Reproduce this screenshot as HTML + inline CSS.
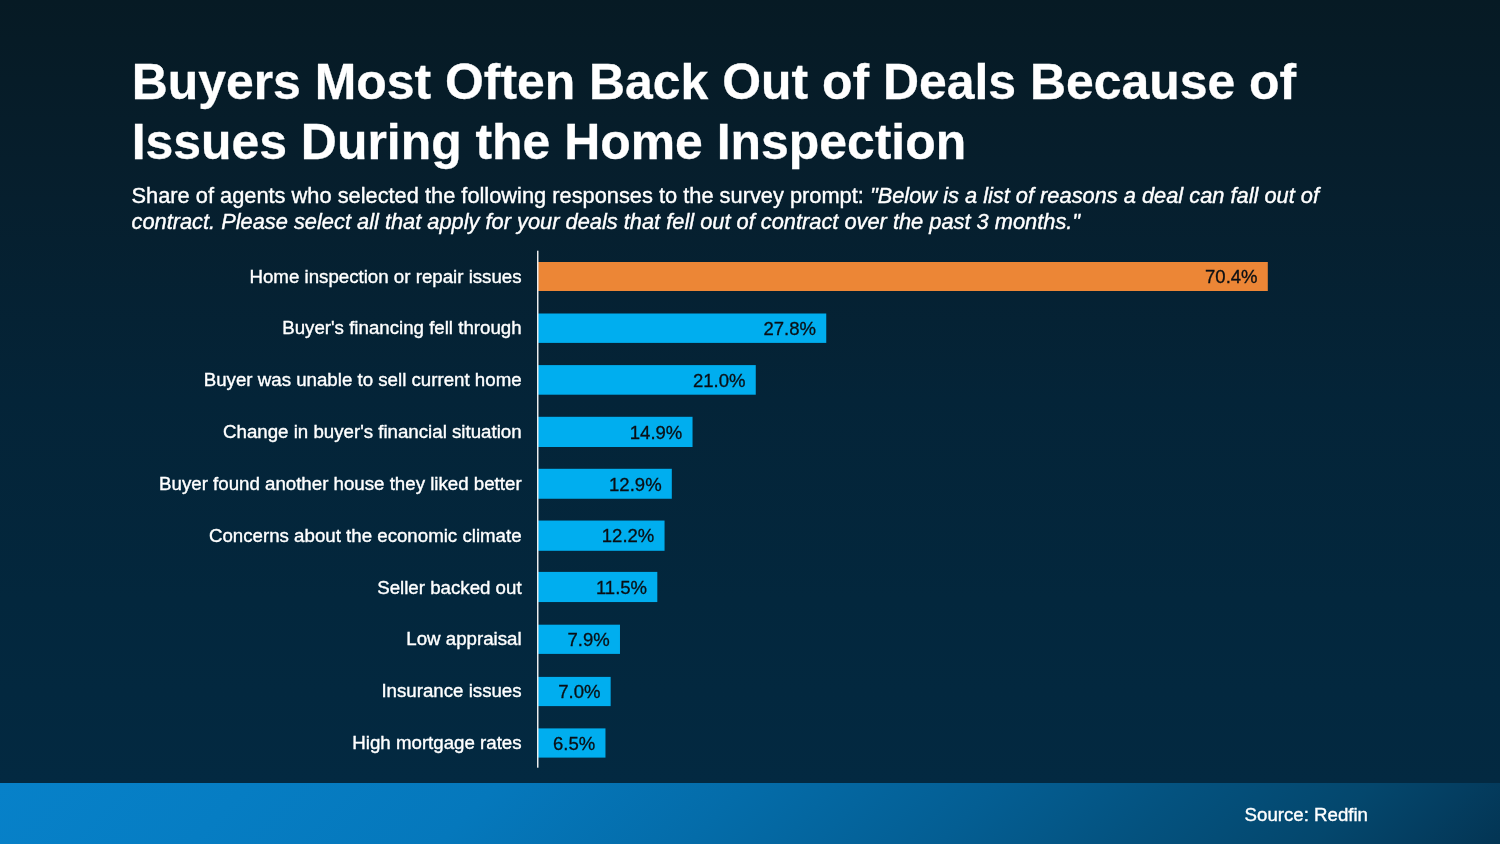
<!DOCTYPE html>
<html lang="en">
<head>
<meta charset="utf-8">
<title>Buyers Most Often Back Out of Deals Because of Issues During the Home Inspection</title>
<style>
html,body{margin:0;padding:0}
.lab,.sub,.src{-webkit-text-stroke:0.38px #fff}
.val{-webkit-text-stroke:0.3px #0a0f14}
h1{-webkit-text-stroke:0.3px #fff}
body{width:1500px;height:844px;overflow:hidden;position:relative;font-family:"Liberation Sans",Arial,sans-serif;color:#fff;
 background:linear-gradient(180deg,#061a24 0px,#061f2e 200px,#042438 400px,#03273d 600px,#032941 783px)}
h1{position:absolute;left:131.7px;top:52px;margin:0;font-size:49.9px;line-height:60px;font-weight:bold;white-space:nowrap;letter-spacing:0}
.sub{position:absolute;left:131.5px;top:182.5px;margin:0;font-size:21.82px;line-height:26.5px;white-space:nowrap}
.lab{position:absolute;right:978.4px;font-size:18.7px;line-height:22px;white-space:nowrap;text-align:right}
.chart{position:absolute;left:0;top:0}
.val{position:absolute;font-size:18.55px;line-height:22px;color:#0a0f14;white-space:nowrap;text-align:right}
.foot{position:absolute;left:0;top:783px;width:1500px;height:61px;background:linear-gradient(135deg,#0781c9 0%,#067dc3 16%,#0578bc 32%,#046ca9 48%,#045e93 64%,#04527f 76%,#04476d 88%,#043e61 94%,#033554 100%)}
.src{position:absolute;right:132.0px;top:803.5px;font-size:18.67px;line-height:22px;white-space:nowrap}
</style>
</head>
<body>
<h1>Buyers Most Often Back Out of Deals Because of<br>Issues During the Home Inspection</h1>
<p class="sub">Share of agents who selected the following responses to the survey prompt: <i>"Below is a list of reasons a deal can fall out of<br>contract. Please select all that apply for your deals that fell out of contract over the past 3 months."</i></p>

<svg class="chart" width="1500" height="844" viewBox="0 0 1500 844">
<rect x="538.10" y="262.00" width="729.70" height="29.00" fill="#ec8636"/>
<rect x="538.10" y="313.50" width="288.15" height="29.40" fill="#00aeef"/>
<rect x="538.10" y="365.10" width="217.66" height="29.60" fill="#00aeef"/>
<rect x="538.10" y="416.80" width="154.44" height="30.20" fill="#00aeef"/>
<rect x="538.10" y="468.80" width="133.71" height="29.95" fill="#00aeef"/>
<rect x="538.10" y="520.55" width="126.45" height="30.25" fill="#00aeef"/>
<rect x="538.10" y="571.90" width="119.20" height="30.15" fill="#00aeef"/>
<rect x="538.10" y="624.70" width="81.88" height="29.20" fill="#00aeef"/>
<rect x="538.10" y="676.90" width="72.56" height="29.20" fill="#00aeef"/>
<rect x="538.10" y="728.40" width="67.37" height="29.20" fill="#00aeef"/>
<rect x="537" y="250.7" width="1" height="517" fill="#ececec"/>
<rect x="538" y="250.7" width="1" height="517" fill="#ffffff" fill-opacity="0.45"/>
</svg>
<div class="lab" style="top:265.65px">Home inspection or repair issues</div>
<div class="val" style="top:266.25px;left:1177.60px;width:80px">70.4%</div>
<div class="lab" style="top:317.47px">Buyer's financing fell through</div>
<div class="val" style="top:318.07px;left:736.05px;width:80px">27.8%</div>
<div class="lab" style="top:369.29px">Buyer was unable to sell current home</div>
<div class="val" style="top:369.89px;left:665.56px;width:80px">21.0%</div>
<div class="lab" style="top:421.11px">Change in buyer's financial situation</div>
<div class="val" style="top:421.71px;left:602.34px;width:80px">14.9%</div>
<div class="lab" style="top:472.93px">Buyer found another house they liked better</div>
<div class="val" style="top:473.53px;left:581.61px;width:80px">12.9%</div>
<div class="lab" style="top:524.75px">Concerns about the economic climate</div>
<div class="val" style="top:525.35px;left:574.35px;width:80px">12.2%</div>
<div class="lab" style="top:576.57px">Seller backed out</div>
<div class="val" style="top:577.17px;left:567.10px;width:80px">11.5%</div>
<div class="lab" style="top:628.39px">Low appraisal</div>
<div class="val" style="top:628.99px;left:529.78px;width:80px">7.9%</div>
<div class="lab" style="top:680.21px">Insurance issues</div>
<div class="val" style="top:680.81px;left:520.45px;width:80px">7.0%</div>
<div class="lab" style="top:732.03px">High mortgage rates</div>
<div class="val" style="top:732.63px;left:515.27px;width:80px">6.5%</div>
<div class="foot"></div>
<div class="src">Source: Redfin</div>
</body>
</html>
